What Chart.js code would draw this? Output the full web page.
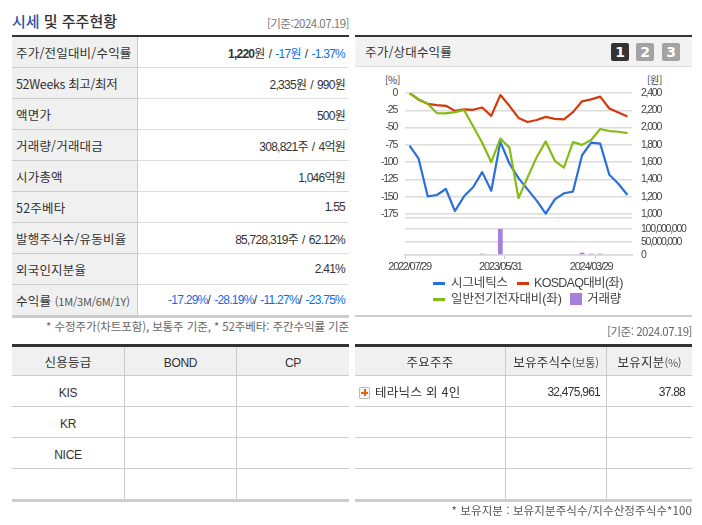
<!DOCTYPE html>
<html lang="ko"><head><meta charset="utf-8">
<script src="https://cdn.jsdelivr.net/npm/chart.js@4/dist/chart.umd.min.js"></script>
<style>
html,body{margin:0;padding:0;background:#fff;width:702px;height:525px;overflow:hidden}
body{font-family:"Noto Sans CJK KR","Noto Sans",sans-serif;font-size:12.5px;color:#333;position:relative;letter-spacing:.2px}
.a{position:absolute;white-space:nowrap}
.num{font-family:"Liberation Sans","Noto Sans CJK KR",sans-serif;font-size:12px;letter-spacing:-.75px;word-spacing:1.5px}
.lat{font-family:"Liberation Sans",sans-serif;font-size:12px;letter-spacing:-.3px}
table{position:absolute;border-collapse:separate;border-spacing:0;table-layout:fixed}
td,th{box-sizing:border-box;padding:0;font-weight:400;white-space:nowrap;overflow:hidden}
#info{left:12px;top:37px;width:337px;border-bottom:3px solid #ccc}
#info td{height:31px;border-bottom:1px solid #ddd;text-align:right;padding-right:4px}
#info td:first-child{background:#f0f0f0;text-align:left;padding-left:4px;padding-right:0;border-right:1px solid #ccc;border-bottom-color:#ccc}
#info tr:last-child td{border-bottom:0;height:30px}
.blue{color:#0a6fe8}
small{font-size:11px;color:#555;letter-spacing:-.2px}
.grid{top:344px;border-top:3px solid #333;border-bottom:3px solid #ccc}
.grid td,.grid th{height:31px;border-bottom:1px solid #ccc;border-right:1px solid #ccc;text-align:center}
.grid th{background:#f0f0f0;height:29px}
.grid td:last-child,.grid th:last-child{border-right:0}
.grid tr:last-child td{border-bottom:0;height:30px}
.grid td.lat{padding-top:3px}
.grid td.num{padding-top:2px}
#panelHead{left:355px;top:35px;width:337px;height:32px;box-sizing:border-box;background:#f2f2f2;border-top:2px solid #333;border-bottom:1px solid #ddd}
#panelFoot{left:355px;top:315px;width:337px;height:2px;background:#ccc}
.btn{top:43px;width:18px;height:18px;text-align:center;color:#fff;font:700 14px/18px "DejaVu Sans",sans-serif;background:#a3a3a3;border-radius:2px;letter-spacing:0}
canvas{position:absolute}
.lg{font-family:"Liberation Sans","Noto Sans CJK KR",sans-serif;font-size:12.5px;color:#444;letter-spacing:-.1px}
.sw{position:absolute;height:2.5px;width:12px}
.plus{display:inline-block;width:11px;height:12px;box-sizing:border-box;border:1px solid #bbb;border-radius:1px;vertical-align:-2px;margin:0 5px 0 4px;
 background:linear-gradient(#f0600a,#f0600a) center/7px 2px no-repeat,linear-gradient(#f0600a,#f0600a) center/2px 7px no-repeat,#f6f6f6}
</style></head><body>
<div class="a" style="left:12px;top:10px;font-size:15px;font-weight:500;line-height:22px;letter-spacing:0"><span style="color:#2c4fa8">시세</span> 및 주주현황</div>
<div class="a" style="right:353px;top:15px;color:#777;font-size:11.5px;line-height:16px;letter-spacing:-.5px">[기준:2024.07.19]</div>
<div class="a" style="left:12px;top:35px;width:337px;height:2px;background:#333"></div>
<table id="info"></table>
<div class="a" style="right:353px;top:318px;font-size:11.5px;line-height:16px;color:#666;letter-spacing:-.1px">* 수정주가(차트포함), 보통주 기준, * 52주베타: 주간수익률 기준</div>
<table id="credit" class="grid" style="left:12px;width:337px"></table>
<div class="a" id="panelHead"></div>
<div class="a" style="left:365px;top:42px;font-size:12.5px;line-height:20px;color:#333">주가/상대수익률</div>
<div class="a btn" style="left:611px;background:#333">1</div>
<div class="a btn" style="left:636px">2</div>
<div class="a btn" style="left:662px">3</div>
<div class="a" style="left:385px;top:74px;font-size:10px;line-height:12px;color:#444;letter-spacing:-.3px">[%]</div>
<div class="a" style="left:647px;top:74px;font-size:10px;line-height:12px;color:#444;letter-spacing:-.3px">[원]</div>
<canvas id="lineC" width="337" height="160" style="left:355px;top:67px"></canvas>
<canvas id="volC" width="337" height="52" style="left:355px;top:222px"></canvas>
<div id="legend"></div>
<div class="a" id="panelFoot"></div>
<div class="a" style="right:10px;top:323px;font-size:11.5px;line-height:16px;color:#666;letter-spacing:-.5px">[기준: 2024.07.19]</div>
<table id="holders" class="grid" style="left:355px;width:337px"></table>
<div class="a" style="right:10px;top:502px;font-size:11.5px;line-height:16px;color:#555;letter-spacing:.1px">* 보유지분 : 보유지분주식수/지수산정주식수*100</div>
<script>
// ---- chart data ----
const dates = ["2022/07/29","2022/08/31","2022/09/30","2022/10/31","2022/11/30","2022/12/29","2023/01/31","2023/02/28","2023/03/31","2023/04/28","2023/05/31","2023/06/30","2023/07/31","2023/08/31","2023/09/27","2023/10/31","2023/11/30","2023/12/28","2024/01/31","2024/02/29","2024/03/29","2024/04/30","2024/05/31","2024/06/28","2024/07/19"];
const priceWon = [1790,1640,1205,1220,1290,1035,1205,1310,1485,1270,1835,1585,1415,1285,1155,1005,1170,1240,1260,1680,1825,1815,1455,1350,1220];
const kosdaqRel = [0,-9.7,-15.6,-17.5,-18.5,-25.8,-23.8,-24.3,-20.9,-33,-3,-18.5,-36,-42,-39,-34.5,-37.4,-38,-27.7,-12,-9.2,-5.3,-22.4,-28.2,-34];
const sectorRel = [0,-9,-15.6,-29,-29.5,-27.7,-24.5,-48,-72,-100,-66,-79,-152,-122,-93,-70,-98,-108,-71,-75,-68,-52,-55,-56,-58];
const volume = [0,0,0,0,0,0,0,0,5000000,0,110000000,0,0,0,0,0,0,0,0,9000000,5000000,5000000,0,0,0];
const seriesNames = ["시그네틱스","KOSDAQ대비(좌)","일반전기전자대비(좌)","거래량"];
const seriesColors = ["#2a6fdb","#d4380d","#86bc12","#a97fdc"];
const pctTicks = [-180,-175,-150,-125,-100,-75,-50,-25,0];
const wonTicks = [1000,1200,1400,1600,1800,2000,2200,2400];
const volTicks = [0,50000000,100000000];
// ---- table data ----
const infoLabels = ['주가/전일대비/수익률','<span style="letter-spacing:-.35px">52Weeks 최고/최저</span>','액면가','거래량/거래대금','시가총액','52주베타','발행주식수/유동비율','외국인지분율','수익률 <small>(1M/3M/6M/1Y)</small>'];
const infoValues = ['<b>1,220</b>원 / <span class="blue">-17원</span> / <span class="blue">-1.37%</span>',"2,335원 / 990원","500원","308,821주 / 4억원","1,046억원","1.55","85,728,319주 / 62.12%","2.41%",'<span class="blue">-17.29%</span>/ <span class="blue">-28.19%</span>/ <span class="blue">-11.27%</span>/ <span class="blue">-23.75%</span>'];
const creditHead = ["신용등급",'<span class="lat">BOND</span>','<span class="lat">CP</span>'];
const creditRows = ["KIS","KR","NICE",""];
const holderHead = ['주요주주','보유주식수<small>(보통)</small>','보유지분<small>(%)</small>'];
const holderRow = ["테라닉스 외 4인","32,475,961","37.88"];

document.getElementById('info').innerHTML = '<colgroup><col style="width:126px"><col></colgroup>' +
  infoLabels.map((l,i)=>`<tr><td>${l}</td><td class="num">${infoValues[i]}</td></tr>`).join('');
document.getElementById('credit').innerHTML = '<colgroup><col style="width:113px"><col style="width:112px"><col></colgroup><tr>' +
  creditHead.map(h=>`<th>${h}</th>`).join('') + '</tr>' +
  creditRows.map(r=>`<tr><td class="lat">${r}</td><td></td><td></td></tr>`).join('');
document.getElementById('holders').innerHTML = '<colgroup><col style="width:151px"><col style="width:101px"><col></colgroup><tr>' +
  holderHead.map(h=>`<th>${h}</th>`).join('') + '</tr>' +
  `<tr><td style="text-align:left;letter-spacing:.3px"><span class="plus"></span>${holderRow[0]}</td><td class="num" style="text-align:right;padding-right:6px">${holderRow[1]}</td><td class="num" style="text-align:right;padding-right:7px">${holderRow[2]}</td></tr>` +
  '<tr><td></td><td></td><td></td></tr><tr><td></td><td></td><td></td></tr><tr><td></td><td></td><td></td></tr>';
// legend
const lgPos = [[433,283,451],[517,283,534],[433,299,451],[570,299,587]];
document.getElementById('legend').innerHTML = seriesNames.map((n,i)=>{
  const [sx,y,tx]=lgPos[i];
  const sw = i===3 ? `<div class="a" style="left:${sx}px;top:${y-6}px;width:12px;height:12px;background:${seriesColors[i]}"></div>`
                   : `<div class="sw" style="left:${sx}px;top:${y-1}px;background:${seriesColors[i]}"></div>`;
  return sw+`<div class="a lg" style="left:${tx}px;top:${y-7}px;line-height:14px;${i===1?'letter-spacing:-.7px':''}">${n}</div>`;
}).join('');

const tickFont = {family:'"Liberation Sans",Arial,sans-serif',size:10.5};
const dateFont = {family:'"Liberation Sans",Arial,sans-serif',size:11};
const tickColor = '#444', gridColor = '#dcdcdc';
const tight = {id:'tight',beforeDraw(c){c.ctx.letterSpacing='-1.25px';}};
const fixY = w => s => { s.width = w; s.paddingTop = 0; s.paddingBottom = 0; };
const setTicks = list => s => { s.ticks = list.map(v=>({value:v})); };
const comma = v => v.toLocaleString('en-US');

new Chart(document.getElementById('lineC'),{
  type:'line',
  data:{labels:dates,datasets:[
    {label:seriesNames[2],data:sectorRel,yAxisID:'y',borderColor:seriesColors[2]},
    {label:seriesNames[1],data:kosdaqRel,yAxisID:'y',borderColor:seriesColors[1]},
    {label:seriesNames[0],data:priceWon,yAxisID:'y2',borderColor:seriesColors[0]}
  ]},
  options:{animation:false,responsive:false,devicePixelRatio:1,
    layout:{padding:{top:26,bottom:9.5,left:0,right:0}},
    elements:{point:{radius:0},line:{borderWidth:2.2,tension:0,borderJoinStyle:'round'}},
    plugins:{legend:{display:false},tooltip:{enabled:false}},
    scales:{
      x:{display:false,offset:true},
      y:{position:'left',min:-180,max:0,afterBuildTicks:setTicks(pctTicks),afterFit:fixY(50),border:{display:false},
         grid:{color:gridColor,drawTicks:false,lineWidth:1.5},
         ticks:{color:tickColor,font:tickFont,padding:8,autoSkip:false,callback:v=>v===pctTicks[0]?'':v}},
      y2:{position:'right',min:960,max:2400,afterBuildTicks:setTicks(wonTicks),afterFit:fixY(60),border:{display:false},
         grid:{display:false,drawTicks:false},
         ticks:{color:tickColor,font:tickFont,padding:9,autoSkip:false,callback:comma}}
    }},
  plugins:[tight]
});
const xLabelAt = [0,10,20], xTickAt = [0,11,21];
new Chart(document.getElementById('volC'),{
  type:'bar',
  data:{labels:dates,datasets:[{label:seriesNames[3],data:volume,backgroundColor:seriesColors[3],categoryPercentage:1,barPercentage:.52}]},
  options:{animation:false,responsive:false,devicePixelRatio:1,
    layout:{padding:{top:7,bottom:0,left:50,right:0}},
    plugins:{legend:{display:false},tooltip:{enabled:false}},
    scales:{
      x:{offset:true,border:{color:'#c9ccd6',width:1.5,z:-1},
         afterFit(s){s.height=19;s.paddingLeft=0;s.paddingRight=0;},
         grid:{offset:true,drawOnChartArea:false,tickLength:4,tickColor:c=>xTickAt.includes(c.index)?'#c9ccd6':'rgba(0,0,0,0)'},
         ticks:{autoSkip:false,maxRotation:0,minRotation:0,color:tickColor,font:dateFont,padding:1,
                callback(v,i){return xLabelAt.includes(i)?this.getLabelForValue(v):'';}}},
      y:{position:'right',min:0,max:100000000,afterBuildTicks:setTicks(volTicks),afterFit:fixY(60),border:{display:false},
         grid:{color:gridColor,drawTicks:false,lineWidth:1.5},
         ticks:{color:tickColor,font:tickFont,padding:9,autoSkip:false,callback:comma}}
    }},
  plugins:[tight]
});
</script>
</body></html>
